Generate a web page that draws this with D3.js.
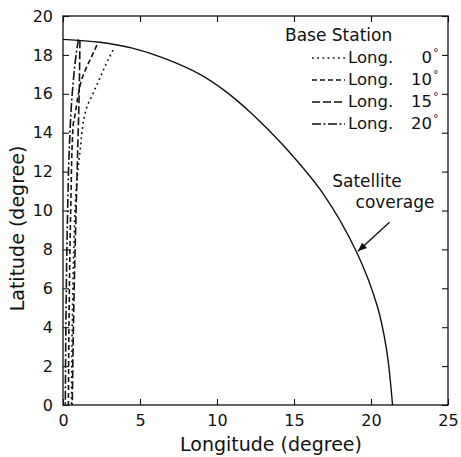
<!DOCTYPE html>
<html lang="en">
<meta charset="utf-8">
<head>
    <script src='https://d3js.org/d3.v7.min.js'></script>
    <style>
        body { margin: 0; background: #fff; }
        text { font-family: "DejaVu Sans", sans-serif; fill: #111; }
    </style>
</head>
<body>
</body>

<script>

// satellite coverage boundary
const coverageLon = [0, 2.4, 4.5, 6.5, 8.9, 10.6, 12.3, 14.3, 16.9, 19.1, 20.4, 21.0, 21.4];
const coverageLat = [18.8, 18.65, 18.35, 17.85, 17.0, 16.1, 14.95, 13.35, 10.85, 7.8, 5.1, 2.9, 0];

// base station curves
const long0Lon = [0.55, 0.6, 0.7, 0.85, 1.1, 1.5, 2.0, 2.5, 2.9, 3.25];
const long0Lat = [0, 4, 8, 11, 13, 15.2, 16.1, 17.0, 17.7, 18.25];
const long10Lon = [0.35, 0.4, 0.5, 0.65, 0.8, 1.0, 1.2, 1.55, 1.85, 2.2];
const long10Lat = [0, 5, 10, 14.3, 15.0, 16.0, 16.7, 17.4, 17.9, 18.5];
const long15Lon = [0.6, 0.7, 0.85, 0.95, 1.05, 1.1];
const long15Lat = [0, 5, 10, 13, 16, 18.75];
const long20Lon = [0.15, 0.2, 0.3, 0.4, 0.6, 0.85, 1.0];
const long20Lat = [0, 5, 10, 13, 16, 18, 18.8];

const seriesNames = ["Long.", "Long.", "Long.", "Long."];
const seriesDeg = ["0", "10", "15", "20"];

const xTicks = [0, 5, 10, 15, 20, 25];
const yTicks = [0, 2, 4, 6, 8, 10, 12, 14, 16, 18, 20];

// dimensions
const width = 461,
    height = 457,
    margin = {top: 16, right: 13, bottom: 52, left: 63};

const svg = d3.select("body")
    .append("svg")
    .attr("width", width)
    .attr("height", height);

const x = d3.scaleLinear().domain([0, 25]).range([margin.left, width - margin.right]);
const y = d3.scaleLinear().domain([0, 20]).range([height - margin.bottom, margin.top]);

// box
svg.append("rect")
    .attr("x", x(0)).attr("y", y(20))
    .attr("width", x(25) - x(0)).attr("height", y(0) - y(20))
    .attr("fill", "none").attr("stroke", "#111").attr("stroke-width", 1.3);

// inward ticks, matlab style
const tk = 6;
svg.append("g")
    .attr("transform", `translate(0,${y(0)})`)
    .call(d3.axisBottom(x).tickValues(xTicks).tickSizeInner(-tk).tickSizeOuter(0).tickPadding(10))
    .call(g => g.select(".domain").remove());
svg.append("g")
    .attr("transform", `translate(0,${y(20)})`)
    .call(d3.axisTop(x).tickValues(xTicks).tickSizeInner(-tk).tickSizeOuter(0).tickFormat(""))
    .call(g => g.select(".domain").remove());
svg.append("g")
    .attr("transform", `translate(${x(0)},0)`)
    .call(d3.axisLeft(y).tickValues(yTicks).tickSizeInner(-tk).tickSizeOuter(0).tickPadding(10))
    .call(g => g.select(".domain").remove());
svg.append("g")
    .attr("transform", `translate(${x(25)},0)`)
    .call(d3.axisRight(y).tickValues(yTicks).tickSizeInner(-tk).tickSizeOuter(0).tickFormat(""))
    .call(g => g.select(".domain").remove());

svg.selectAll(".tick line").attr("stroke", "#111").attr("stroke-width", 1.1);
svg.selectAll(".tick text")
    .style("font-family", "DejaVu Sans")
    .style("font-size", "16px")
    .attr("fill", "#111");

// axis labels
svg.append("text")
    .attr("x", 271)
    .attr("y", 451)
    .attr("text-anchor", "middle")
    .style("font-size", "19px")
    .text("Longitude (degree)");
svg.append("text")
    .attr("transform", `translate(24,${(y(0) + y(20)) / 2 + 18}) rotate(-90)`)
    .attr("text-anchor", "middle")
    .style("font-size", "19px")
    .text("Latitude (degree)");

// curves
const zip = (a, b) => a.map((v, i) => [v, b[i]]);
const lineY = d3.line().x(d => x(d[0])).y(d => y(d[1])).curve(d3.curveMonotoneY);
const lineC = d3.line().x(d => x(d[0])).y(d => y(d[1])).curve(d3.curveCatmullRom.alpha(0.5));

const dashes = ["1.8,3.4", "5,3", "8,3", "9,2.5,2,2.5"];
const stations = [
    zip(long0Lon, long0Lat),
    zip(long10Lon, long10Lat),
    zip(long15Lon, long15Lat),
    zip(long20Lon, long20Lat)
];

svg.selectAll("path.station")
    .data(stations)
    .join("path")
    .attr("class", "station")
    .attr("d", d => lineY(d.slice().reverse()))
    .attr("fill", "none")
    .attr("stroke", "#111")
    .attr("stroke-width", 1.6)
    .attr("stroke-dasharray", (d, i) => dashes[i]);

svg.append("path")
    .attr("d", lineC(zip(coverageLon, coverageLat)))
    .attr("fill", "none")
    .attr("stroke", "#111")
    .attr("stroke-width", 1.4);

// legend
const lg = svg.append("g");
lg.append("text")
    .attr("x", 285).attr("y", 41)
    .style("font-size", "17px")
    .text("Base Station");

const rows = lg.selectAll("g.row")
    .data(seriesDeg)
    .join("g")
    .attr("class", "row")
    .attr("transform", (d, i) => `translate(0,${63 + i * 22})`);
rows.append("line")
    .attr("x1", 312).attr("x2", 345)
    .attr("y1", -5).attr("y2", -5)
    .attr("stroke", "#111").attr("stroke-width", 1.3)
    .attr("stroke-dasharray", (d, i) => dashes[i]);
rows.append("text")
    .attr("x", 348)
    .style("font-size", "16.5px")
    .text((d, i) => seriesNames[i]);
rows.append("text")
    .attr("x", 432)
    .attr("text-anchor", "end")
    .style("font-size", "16.5px")
    .text(d => d);
rows.append("text")
    .attr("x", 433).attr("y", -7)
    .style("font-size", "11px")
    .text("°");

// annotation
svg.append("text")
    .attr("x", 367).attr("y", 187)
    .attr("text-anchor", "middle")
    .style("font-size", "17px")
    .text("Satellite");
svg.append("text")
    .attr("x", 395).attr("y", 208)
    .attr("text-anchor", "middle")
    .style("font-size", "17px")
    .text("coverage");

svg.append("defs").append("marker")
    .attr("id", "arrow")
    .attr("viewBox", "0 0 10 10")
    .attr("refX", 10).attr("refY", 5)
    .attr("markerWidth", 9).attr("markerHeight", 9)
    .attr("markerUnits", "userSpaceOnUse")
    .attr("orient", "auto")
    .append("path")
    .attr("d", "M0,1 L10,5 L0,9 Z")
    .attr("fill", "#111");

svg.append("line")
    .attr("x1", x(21.2)).attr("y1", y(9.4))
    .attr("x2", x(19.15)).attr("y2", y(7.9))
    .attr("stroke", "#111").attr("stroke-width", 1.4)
    .attr("marker-end", "url(#arrow)");
</script>
